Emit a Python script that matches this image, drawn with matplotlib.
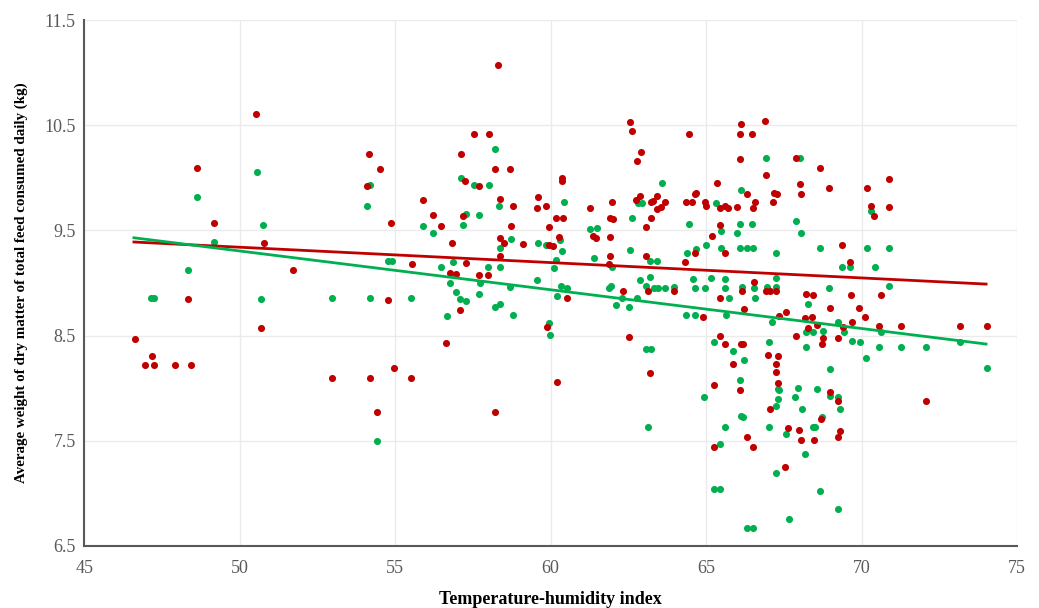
import numpy as np
import matplotlib
matplotlib.use('Agg')
import matplotlib.pyplot as plt

# puntos (THI, kg materia seca)
red_pts = [
    (50.53, 10.61), (48.63, 10.09), (49.18, 9.57), (50.77, 9.38), (51.73, 9.12), (48.35, 8.85),
    (50.67, 8.57), (46.62, 8.47), (47.17, 8.31), (46.96, 8.22), (47.25, 8.22), (47.93, 8.22),
    (48.42, 8.22), (52.97, 8.10),
    (58.32, 11.07), (57.54, 10.42), (58.01, 10.42), (54.16, 10.23), (57.11, 10.23), (54.51, 10.08),
    (58.20, 10.08), (58.68, 10.08), (57.26, 9.97), (54.08, 9.92), (57.69, 9.92), (58.37, 9.80),
    (55.89, 9.79), (58.80, 9.73), (56.23, 9.65), (57.17, 9.64), (54.88, 9.57), (56.47, 9.54),
    (58.71, 9.54), (56.84, 9.38), (58.37, 9.43), (58.50, 9.38), (59.11, 9.37), (58.37, 9.26),
    (55.54, 9.18), (57.27, 9.19), (56.77, 9.10), (56.96, 9.09), (57.70, 9.08), (57.97, 9.08),
    (57.09, 8.74), (54.77, 8.84), (56.65, 8.43), (54.97, 8.19), (54.19, 8.10), (55.52, 8.10),
    (54.40, 7.77), (58.20, 7.77),
    (59.60, 9.82), (59.55, 9.71), (59.84, 9.73), (60.35, 10.00), (60.37, 9.97), (60.16, 9.62),
    (60.41, 9.62), (59.94, 9.53), (60.28, 9.44), (59.96, 9.36), (60.08, 9.35), (60.54, 8.86),
    (59.87, 8.58), (60.20, 8.06),
    (62.55, 10.53), (62.61, 10.45), (64.45, 10.42), (66.11, 10.51), (66.10, 10.42), (66.48, 10.42),
    (66.90, 10.54), (62.92, 10.25), (62.77, 10.16), (66.10, 10.18), (67.90, 10.19), (66.92, 10.03),
    (65.34, 9.95), (68.01, 9.94), (66.30, 9.85), (62.86, 9.83), (64.67, 9.86), (64.65, 9.85),
    (67.17, 9.86), (67.27, 9.85), (68.05, 9.85), (61.97, 9.77), (62.74, 9.79), (63.22, 9.77),
    (63.28, 9.78), (63.42, 9.83), (63.67, 9.77), (64.35, 9.77), (64.54, 9.77), (64.95, 9.77),
    (66.58, 9.77), (67.16, 9.77), (61.27, 9.71), (64.99, 9.73), (63.43, 9.70), (63.56, 9.72),
    (65.45, 9.71), (65.60, 9.73), (65.71, 9.71), (66.00, 9.72), (66.49, 9.71), (61.92, 9.62),
    (62.02, 9.61), (63.23, 9.62), (65.46, 9.55), (63.06, 9.53), (61.37, 9.45), (61.47, 9.43),
    (61.92, 9.44), (65.18, 9.45), (64.64, 9.29), (65.62, 9.29), (61.90, 9.26), (63.05, 9.26),
    (64.33, 9.20), (61.88, 9.18), (66.53, 9.01), (62.31, 8.92), (63.14, 8.92), (63.96, 8.92),
    (66.15, 8.92), (66.92, 8.92), (67.04, 8.92), (67.23, 8.92), (65.44, 8.86), (66.22, 8.75),
    (64.91, 8.68), (67.34, 8.69), (67.57, 8.72), (67.90, 8.50), (62.51, 8.49), (65.43, 8.50),
    (65.61, 8.42), (66.11, 8.42), (66.18, 8.42), (67.00, 8.32), (67.30, 8.31), (65.86, 8.23),
    (67.23, 8.23), (67.23, 8.15), (67.30, 8.05), (63.20, 8.14), (65.24, 8.03), (66.10, 7.98),
    (67.04, 7.80), (67.62, 7.62), (67.99, 7.60), (66.30, 7.54), (68.06, 7.51), (65.25, 7.44),
    (66.52, 7.44), (67.54, 7.25),
    (68.67, 10.09), (68.96, 9.90), (70.17, 9.90), (70.87, 9.99), (70.31, 9.73), (70.41, 9.64),
    (70.87, 9.72), (69.37, 9.36), (69.63, 9.20), (68.21, 8.90), (68.42, 8.89), (69.67, 8.89),
    (70.62, 8.89), (68.97, 8.76), (69.92, 8.76), (70.12, 8.68), (68.18, 8.67), (68.41, 8.68),
    (68.26, 8.57), (68.55, 8.60), (69.40, 8.58), (69.68, 8.63), (70.55, 8.59), (71.26, 8.59),
    (73.16, 8.59), (74.04, 8.59), (68.76, 8.48), (69.24, 8.48), (68.73, 8.42), (68.97, 7.96),
    (69.23, 7.88), (72.08, 7.88), (68.68, 7.71), (69.29, 7.59), (69.23, 7.54), (68.47, 7.51),
]

green_pts = [
    (48.64, 9.82), (50.55, 10.06), (50.76, 9.55), (49.19, 9.39), (48.35, 9.12), (47.14, 8.86),
    (47.24, 8.86), (50.67, 8.85), (52.97, 8.86),
    (58.20, 10.27), (57.11, 10.00), (54.18, 9.93), (57.54, 9.93), (58.01, 9.93), (54.09, 9.73),
    (58.33, 9.73), (57.27, 9.66), (57.69, 9.65), (55.90, 9.54), (57.17, 9.55), (56.23, 9.48),
    (58.37, 9.33), (58.73, 9.42), (54.78, 9.21), (54.90, 9.21), (56.86, 9.20), (56.48, 9.15),
    (57.97, 9.15), (58.37, 9.15), (56.77, 9.00), (57.73, 9.00), (58.69, 8.96), (56.96, 8.91),
    (57.09, 8.85), (57.28, 8.83), (57.71, 8.90), (56.66, 8.69), (58.20, 8.77), (58.38, 8.80),
    (58.80, 8.70), (54.19, 8.86), (55.52, 8.86), (54.41, 7.50),
    (60.42, 9.77), (59.58, 9.38), (59.85, 9.36), (60.30, 9.41), (60.38, 9.30), (60.18, 9.22),
    (60.12, 9.14), (59.56, 9.03), (60.34, 8.97), (60.54, 8.95), (60.20, 8.88), (59.94, 8.62),
    (59.99, 8.51),
    (66.92, 10.19), (68.03, 10.19), (63.57, 9.95), (66.11, 9.88), (62.80, 9.76), (62.95, 9.76),
    (65.33, 9.76), (62.62, 9.62), (67.90, 9.59), (64.45, 9.56), (66.09, 9.56), (66.48, 9.56),
    (61.27, 9.51), (61.48, 9.52), (65.48, 9.49), (66.00, 9.48), (68.06, 9.48), (65.00, 9.36),
    (62.54, 9.31), (64.39, 9.29), (64.66, 9.32), (65.48, 9.33), (66.09, 9.33), (66.30, 9.33),
    (66.49, 9.33), (67.24, 9.29), (61.38, 9.24), (63.20, 9.21), (63.42, 9.21), (61.96, 9.15),
    (62.86, 9.03), (63.20, 9.06), (64.57, 9.04), (65.17, 9.05), (65.59, 9.04), (67.25, 9.05),
    (63.05, 8.97), (63.33, 8.95), (63.44, 8.95), (63.68, 8.95), (63.96, 8.96), (64.63, 8.95),
    (64.95, 8.95), (65.59, 8.95), (66.15, 8.96), (66.54, 8.95), (66.96, 8.96), (67.24, 8.96),
    (61.88, 8.95), (61.95, 8.97), (62.30, 8.86), (62.76, 8.86), (65.72, 8.86), (66.57, 8.86),
    (62.10, 8.79), (62.52, 8.77), (64.34, 8.70), (64.63, 8.70), (65.65, 8.70), (67.13, 8.63),
    (65.25, 8.44), (65.86, 8.35), (67.01, 8.44), (66.23, 8.27), (63.06, 8.37), (63.23, 8.37),
    (66.09, 8.08), (67.30, 7.99), (67.34, 7.98), (67.95, 8.00), (67.85, 7.92), (64.92, 7.92),
    (67.31, 7.90), (67.23, 7.83), (68.09, 7.80), (66.11, 7.74), (66.18, 7.73), (63.14, 7.63),
    (65.62, 7.63), (67.01, 7.63), (67.56, 7.56), (65.43, 7.47), (67.23, 7.19), (65.24, 7.04),
    (65.43, 7.04), (67.65, 6.76), (66.30, 6.67), (66.51, 6.67),
    (70.31, 9.68), (68.67, 9.33), (70.17, 9.33), (70.89, 9.33), (69.37, 9.15), (69.63, 9.15),
    (70.42, 9.15), (70.88, 8.97), (68.96, 8.95), (68.26, 8.80), (69.25, 8.63), (69.42, 8.53),
    (68.21, 8.53), (68.42, 8.53), (68.77, 8.54), (70.63, 8.53), (69.68, 8.45), (69.94, 8.44),
    (73.16, 8.44), (68.21, 8.39), (70.55, 8.39), (71.27, 8.39), (72.08, 8.39), (70.13, 8.29),
    (68.97, 8.18), (74.04, 8.19), (68.55, 7.99), (68.99, 7.93), (69.24, 7.92), (69.30, 7.80),
    (68.73, 7.73), (68.42, 7.63), (68.50, 7.63), (68.19, 7.37), (68.67, 7.02), (69.24, 6.85),
]

# líneas de tendencia (extremos leídos)
trend_x = [46.6, 74.0]
red_trend = [9.39, 8.99]
green_trend = [9.43, 8.42]

x_ticks = [45, 50, 55, 60, 65, 70, 75]
y_ticks = [6.5, 7.5, 8.5, 9.5, 10.5, 11.5]

rojo = '#C00000'
verde = '#00B050'

plt.rcParams['font.family'] = ['Liberation Serif', 'DejaVu Serif']

red = np.array(red_pts)
green = np.array(green_pts)

fig = plt.figure(figsize=(10.39, 6.08), dpi=100)
ax = fig.add_axes([0.081, 0.102, 0.898, 0.865])

ax.scatter(green[:, 0], green[:, 1], s=26, color=verde, zorder=3, linewidths=0)
ax.scatter(red[:, 0], red[:, 1], s=26, color=rojo, zorder=3, linewidths=0)
ax.plot(trend_x, red_trend, color=rojo, lw=2, zorder=4)
ax.plot(trend_x, green_trend, color=verde, lw=2, zorder=4)

ax.set_xlim(45, 75)
ax.set_ylim(6.5, 11.5)
ax.set_xticks(x_ticks)
ax.set_yticks(y_ticks)
ax.grid(True, color='#EBEBEB', lw=1, zorder=0)
ax.set_axisbelow(True)

for s in ['top', 'right']:
    ax.spines[s].set_visible(False)
for s in ['left', 'bottom']:
    ax.spines[s].set_color('#595959')
    ax.spines[s].set_linewidth(1.5)

ax.tick_params(length=0, labelsize=13, colors='#595959', pad=10)
ax.tick_params(axis='y', pad=6)

ax.set_xlabel('Temperature-humidity index', fontsize=13, fontweight='bold', labelpad=10)
ax.set_ylabel('Average weight of dry matter of total feed consumed daily (kg)', fontsize=10.8,
              fontweight='bold', labelpad=12)

fig.savefig('out.png', dpi=100, facecolor='white')
